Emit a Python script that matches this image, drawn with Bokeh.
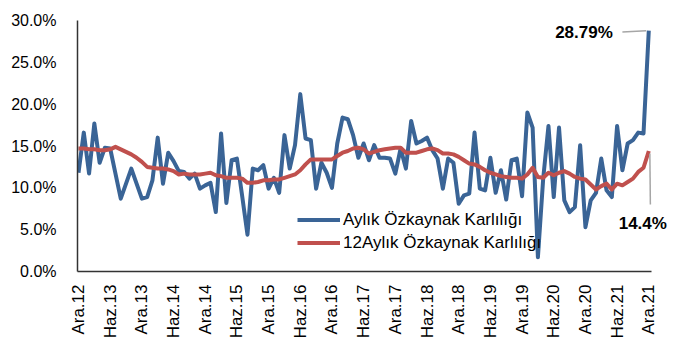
from math import pi
from bokeh.plotting import figure
from bokeh.models import (FixedTicker, CustomJSTickFormatter, Label, Legend,
                          LegendItem, Range1d)
from bokeh.embed import file_html
from bokeh.resources import INLINE

tick_labels = ["Ara.12", "Haz.13", "Ara.13", "Haz.14", "Ara.14", "Haz.15", "Ara.15",
               "Haz.16", "Ara.16", "Haz.17", "Ara.17", "Haz.18", "Ara.18", "Haz.19",
               "Ara.19", "Haz.20", "Ara.20", "Haz.21", "Ara.21"]

# Aylık Özkaynak Karlılığı (%), monthly Ara.12 .. Ara.21
aylik = [11.8, 16.6, 11.7, 17.7, 13.0, 14.8, 14.7, 11.7, 8.7, 10.5,
         12.3, 10.5, 8.7, 8.9, 10.9, 16.0, 10.5, 14.2, 13.2, 12.0,
         11.9, 11.1, 11.7, 9.9, 10.3, 10.6, 7.1, 16.5, 8.2, 13.3,
         13.5, 9.0, 4.4, 12.3, 12.1, 12.7, 9.9, 11.2, 9.4, 16.3,
         12.3, 15.1, 21.2, 15.9, 15.7, 9.9, 13.0, 11.8, 10.0, 15.3,
         18.4, 18.2, 16.3, 13.6, 15.3, 13.3, 15.1, 13.6, 13.6, 13.5,
         11.7, 14.7, 12.3, 18.0, 15.3, 15.6, 16.0, 14.5, 13.5, 9.9,
         13.5, 13.0, 8.1, 9.1, 9.3, 16.6, 9.9, 9.7, 13.6, 9.4,
         12.1, 8.6, 13.3, 13.5, 9.0, 19.0, 17.2, 1.7, 11.1, 17.4,
         8.9, 17.2, 8.5, 7.1, 7.7, 15.1, 5.3, 8.5, 9.4, 13.5,
         9.7, 8.9, 17.4, 12.1, 15.3, 15.7, 16.6, 16.5, 28.79]

# 12Aylık Özkaynak Karlılığı (%)
yillik = [14.7, 14.7, 14.6, 14.6, 14.5, 14.5, 14.6, 14.9, 14.6, 14.3,
          14.0, 13.6, 13.1, 12.5, 12.4, 12.3, 12.3, 12.2, 12.0, 11.6,
          11.7, 11.6, 11.6, 11.6, 11.7, 11.8, 11.5, 11.4, 11.2, 11.2,
          11.2, 11.1, 10.6, 10.6, 10.7, 10.9, 10.9, 11.0, 11.0, 11.2,
          11.4, 11.6, 12.1, 12.8, 13.4, 13.4, 13.4, 13.4, 13.4, 13.8,
          14.2, 14.4, 14.7, 14.8, 14.6, 14.1, 14.3, 14.5, 14.6, 14.7,
          14.8, 14.8, 14.2, 14.2, 14.2, 14.4, 14.6, 14.7, 14.5, 14.1,
          14.1, 14.0, 13.7, 13.3, 12.9, 12.8, 12.5, 12.1, 11.8, 11.6,
          11.4, 11.3, 11.2, 11.2, 11.1, 11.6, 12.4, 11.3, 11.2, 11.8,
          11.5, 11.8, 12.0, 11.7, 11.3, 11.1, 11.0, 10.4, 9.8, 10.2,
          10.5, 9.8, 10.5, 10.3, 10.7, 11.1, 11.9, 12.4, 14.4]

months = list(range(len(aylik)))
tick_pos = list(range(0, len(aylik), 6))

BLUE = "#3A6496"
RED = "#C0504D"
GREY = "#A6A6A6"
FONT = "Liberation Sans"

X0, X_AXIS_END, X1 = -0.19, 108.5, 112.3

p = figure(width=671, height=342, output_backend="svg", toolbar_location=None,
           x_range=Range1d(X0, X1), y_range=Range1d(0, 30),
           min_border_left=77, min_border_right=0, min_border_top=20,
           min_border_bottom=71)
p.outline_line_color = None
p.xgrid.visible = False
p.ygrid.visible = False

# Y axis
p.yaxis.ticker = FixedTicker(ticks=[0, 5, 10, 15, 20, 25, 30])
p.yaxis.formatter = CustomJSTickFormatter(code="return tick.toFixed(1) + '%';")
p.yaxis.major_tick_line_color = None
p.yaxis.minor_tick_line_color = None
p.yaxis.major_tick_out = 0
p.yaxis.major_label_standoff = 21
p.yaxis.major_label_text_font = FONT
p.yaxis.major_label_text_font_size = "16px"
p.yaxis.major_label_text_color = "black"
p.yaxis.axis_line_color = "#333333"
p.yaxis.axis_line_width = 1.5

# X axis
p.xaxis.bounds = (X0, X_AXIS_END)
p.xaxis.ticker = FixedTicker(ticks=tick_pos)
p.xaxis.major_label_overrides = {t: lab for t, lab in zip(tick_pos, tick_labels)}
p.xaxis.major_label_orientation = pi / 2
p.xaxis.major_tick_line_color = None
p.xaxis.minor_tick_line_color = None
p.xaxis.major_tick_out = 0
p.xaxis.major_label_standoff = 13
p.xaxis.major_label_text_font = FONT
p.xaxis.major_label_text_font_size = "17px"
p.xaxis.major_label_text_color = "black"
p.xaxis.axis_line_color = "#333333"
p.xaxis.axis_line_width = 1.5

r1 = p.line(months, aylik, line_color=BLUE, line_width=4, line_join="round")
r2 = p.line(months, yillik, line_color=RED, line_width=4, line_join="round")

legend = Legend(items=[LegendItem(label="Aylık Özkaynak Karlılığı", renderers=[r1]),
                       LegendItem(label="12Aylık Özkaynak Karlılığı", renderers=[r2])],
                location=(220, 17), padding=0, margin=0, spacing=0,
                glyph_width=43, glyph_height=23, label_height=23, label_standoff=3,
                border_line_color=None, background_fill_alpha=0,
                label_text_font=FONT, label_text_font_size="17px",
                label_text_color="black")
p.add_layout(legend)

last_i = months[-1]
last_a = aylik[-1]
last_y = yillik[-1]

# leader lines for the two value labels
p.segment(x0=[last_i - 5.0, last_i + 0.2], y0=[last_a - 0.15, last_y - 0.3],
          x1=[last_i - 0.5, last_i + 0.3], y1=[last_a - 0.02, last_y - 6.4],
          line_color=GREY, line_width=1.5)

p.add_layout(Label(x=last_i, y=last_a, x_offset=-36, y_offset=-2,
                   text=f"{last_a:.2f}%", text_align="right", text_baseline="middle",
                   text_font=FONT, text_font_size="17px", text_font_style="bold",
                   text_color="black"))
p.add_layout(Label(x=last_i, y=last_y, x_offset=-6, y_offset=-72,
                   text=f"{last_y:.1f}%", text_align="center", text_baseline="middle",
                   text_font=FONT, text_font_size="17px", text_font_style="bold",
                   text_color="black"))

open("out.html", "w").write(file_html(p, INLINE))
